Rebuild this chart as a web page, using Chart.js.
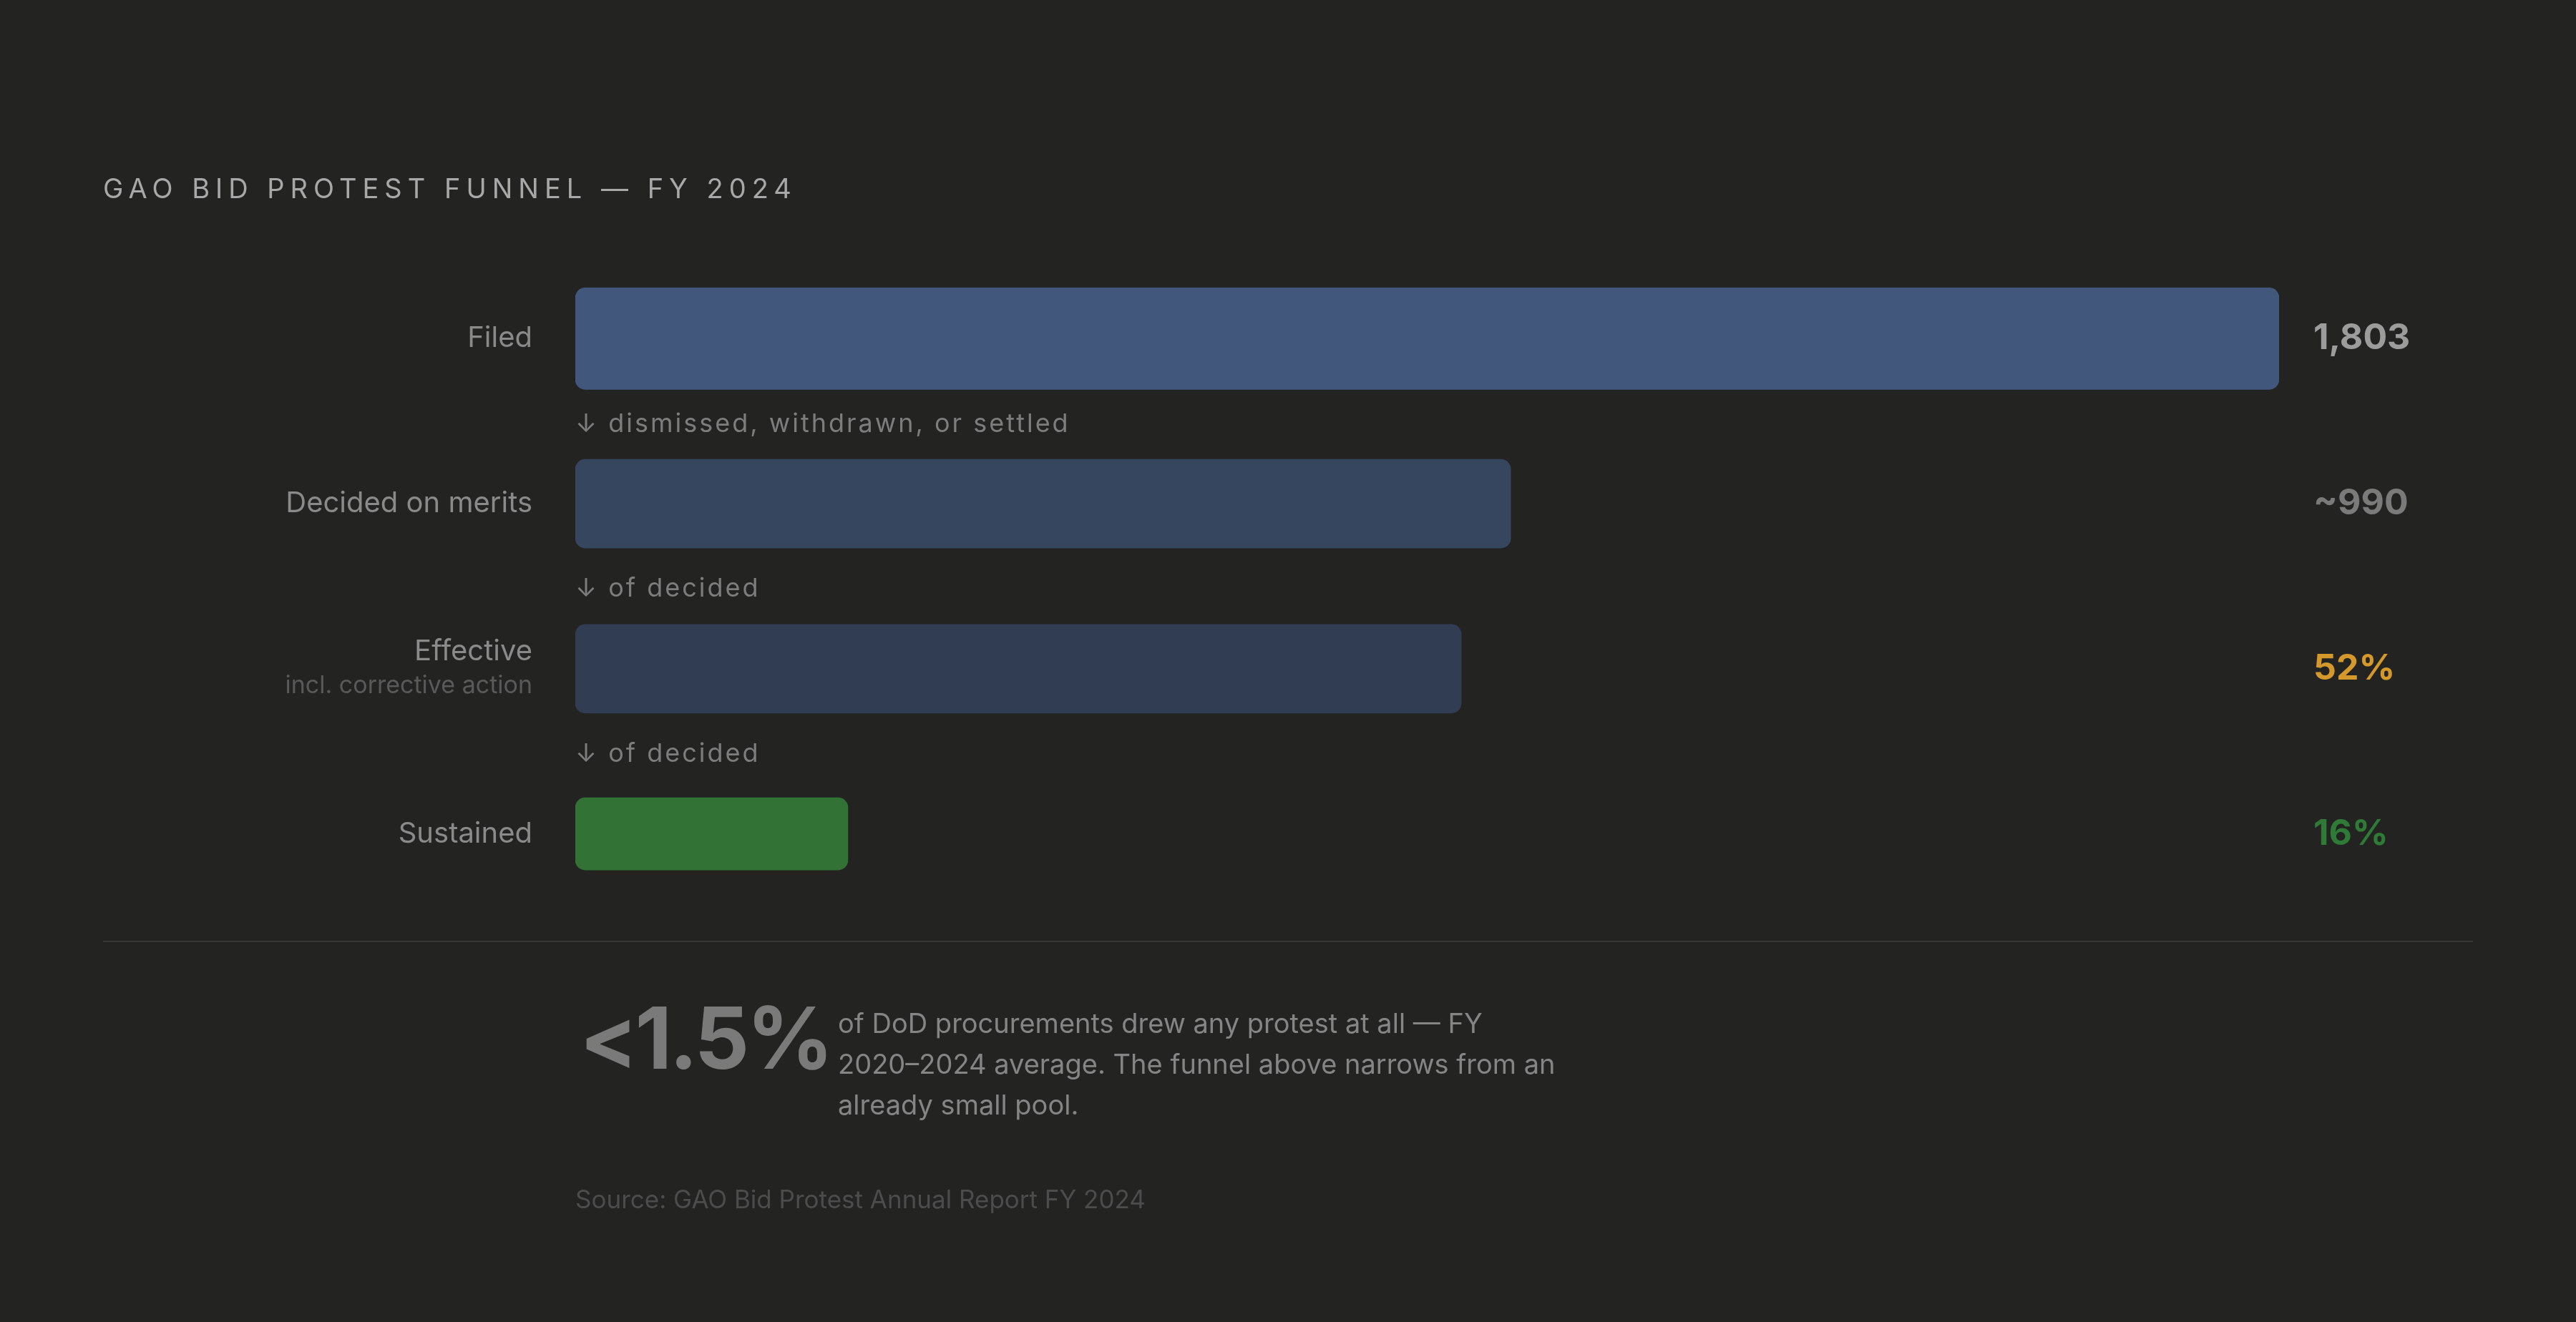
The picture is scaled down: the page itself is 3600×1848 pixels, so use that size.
<!DOCTYPE html>
<html>
<head>
<meta charset="utf-8">
<script src="https://cdn.jsdelivr.net/npm/chart.js@4"></script>
<style>
  body { margin: 0; background: #232321; font-family: Inter, "Noto Sans", sans-serif; }
  #wrap { position: absolute; left: 0; top: 0; width: 3600px; height: 1848px; }
  .title { position: absolute; left: 144px; top: 240px; font-size: 38px; letter-spacing: 8px; color: #a8a8a8; }
  .rule { position: absolute; left: 144px; top: 1315px; width: 3312px; height: 2px; background: #383836; }
  .big { position: absolute; left: 810px; top: 1378px; font-size: 120px; font-weight: 700; color: #7a7a7a; letter-spacing: -4px; }
  .para { position: absolute; left: 1171px; top: 1402px; width: 1020px; font-size: 38px; line-height: 57px; color: #858585; }
  .source { position: absolute; left: 804px; top: 1655px; font-size: 35px; color: #4c4c4c; }
</style>
</head>
<body>
<div id="wrap"><canvas id="funnel"></canvas></div>
<div class="title">GAO BID PROTEST FUNNEL — FY 2024</div>
<div class="rule"></div>
<div class="big">&lt;1.5%</div>
<div class="para">of DoD procurements drew any protest at all — FY 2020–2024 average. The funnel above narrows from an already small pool.</div>
<div class="source">Source: GAO Bid Protest Annual Report FY 2024</div>
<script>
// funnel stages
var stages = ["Filed", "Decided on merits", "Effective", "Sustained"];
var subLabels = ["", "", "incl. corrective action", ""];
// bar length, as share of filed (%)
var barShare = [100, 54.9, 52, 16];
var valueLabels = ["1,803", "~990", "52%", "16%"];
var stepNotes = ["↓ dismissed, withdrawn, or settled", "↓ of decided", "↓ of decided"];

var barColors = ["#42577c", "#36465f", "#313d52", "#337235"];
var valueColors = ["#9c9c9c", "#7a7a7a", "#d4982b", "#2f7a36"];
var thickness = [142, 124, 124, 101];

var datasets = stages.map(function (s, i) {
  return {
    data: stages.map(function (_, j) { return j === i ? barShare[i] : null; }),
    backgroundColor: barColors[i],
    barThickness: thickness[i],
    borderRadius: 14,
    borderSkipped: false,
    grouped: false
  };
});

var textPlugin = {
  id: "funnelText",
  afterDatasetsDraw: function (chart) {
    var ctx = chart.ctx, y = chart.scales.y, area = chart.chartArea;
    ctx.save();
    ctx.textBaseline = "middle";
    stages.forEach(function (s, i) {
      var py = y.getPixelForValue(i);
      ctx.textAlign = "right";
      ctx.font = "40px Inter";
      ctx.fillStyle = "#8a8a8a";
      if (subLabels[i]) {
        ctx.fillText(s, area.left - 60, py - 24);
        ctx.font = "34px Inter";
        ctx.fillStyle = "#595959";
        ctx.fillText(subLabels[i], area.left - 60, py + 24);
      } else {
        ctx.fillText(s, area.left - 60, py);
      }
      ctx.textAlign = "left";
      ctx.font = "bold 50px Inter";
      ctx.fillStyle = valueColors[i];
      ctx.fillText(valueLabels[i], area.right + 48, py);
    });
    ctx.font = "36px Inter";
    ctx.fillStyle = "#7d7d7d";
    ctx.textAlign = "left";
    if (ctx.letterSpacing !== undefined) ctx.letterSpacing = "3px";
    stepNotes.forEach(function (n, i) {
      var py = (y.getPixelForValue(i) + y.getPixelForValue(i + 1)) / 2 + 4;
      ctx.fillText(n, area.left, py);
    });
    ctx.restore();
  }
};

new Chart(document.getElementById("funnel"), {
  type: "bar",
  data: { labels: stages, datasets: datasets },
  options: {
    indexAxis: "y",
    responsive: true,
    maintainAspectRatio: false,
    devicePixelRatio: 1,
    animation: false,
    layout: { padding: { left: 804, right: 415, top: 358, bottom: 567 } },
    scales: {
      x: { display: false, min: 0, max: 100 },
      y: { display: false }
    },
    plugins: { legend: { display: false }, tooltip: { enabled: false } }
  },
  plugins: [textPlugin]
});
</script>
</body>
</html>
